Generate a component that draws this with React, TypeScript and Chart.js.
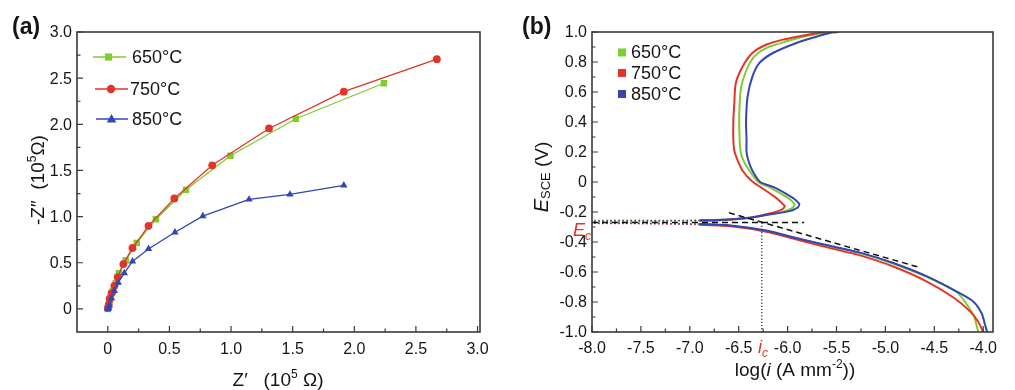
import React, { useEffect, useRef } from 'react';
import { Chart, registerables } from 'chart.js';
Chart.register(...registerables);

// ---------- Panel (a): Nyquist data (10^5 ohm) ----------
const zReal650 = [0, 0.008, 0.02, 0.04, 0.064, 0.09, 0.145, 0.235, 0.39, 0.635, 0.995, 1.525, 2.24];
const zImag650 = [0, 0.04, 0.1, 0.19, 0.28, 0.388, 0.526, 0.715, 0.972, 1.29, 1.66, 2.06, 2.445];
const zReal750 = [0, 0.008, 0.015, 0.03, 0.053, 0.08, 0.126, 0.2, 0.33, 0.54, 0.847, 1.308, 1.915, 2.67];
const zImag750 = [0.01, 0.05, 0.11, 0.17, 0.25, 0.345, 0.486, 0.66, 0.9, 1.197, 1.556, 1.955, 2.354, 2.706];
const zReal850 = [0, 0.005, 0.012, 0.03, 0.053, 0.085, 0.134, 0.2, 0.33, 0.545, 0.771, 1.146, 1.478, 1.915];
const zImag850 = [0, 0.01, 0.04, 0.116, 0.196, 0.286, 0.388, 0.515, 0.65, 0.83, 1.005, 1.186, 1.24, 1.338];

const aTicks = [0, 0.5, 1.0, 1.5, 2.0, 2.5, 3.0];
const aTickLabels = ['0', '0.5', '1.0', '1.5', '2.0', '2.5', '3.0'];
const aMinor = [0.25, 0.75, 1.25, 1.75, 2.25, 2.75];

// ---------- Panel (b): polarization data ----------
const logI650 = [-4.05, -4.07, -4.1, -4.2, -4.27, -4.58, -4.92, -5.26, -5.535, -5.88, -6.22, -6.56, -6.9, -7.6, -8.0, -8.0, -7.3, -6.9, -6.7, -6.39, -6.22, -6.03, -5.95, -5.93, -5.96, -6.0, -6.18, -6.3, -6.39, -6.45, -6.48, -6.49, -6.495, -6.49, -6.475, -6.42, -6.34, -6.22, -6.01, -5.8, -5.64, -5.58];
const E650 = [-1.0, -0.95, -0.886, -0.787, -0.735, -0.633, -0.543, -0.474, -0.434, -0.381, -0.326, -0.293, -0.282, -0.272, -0.27, -0.256, -0.254, -0.254, -0.252, -0.238, -0.22, -0.194, -0.172, -0.15, -0.125, -0.104, -0.037, 0.0, 0.075, 0.14, 0.2, 0.277, 0.4, 0.524, 0.635, 0.747, 0.837, 0.893, 0.938, 0.975, 0.994, 1.0];

const logI750 = [-4.0, -4.05, -4.13, -4.3, -4.58, -4.92, -5.26, -5.535, -5.88, -6.22, -6.56, -6.9, -7.5, -8.0, -8.0, -7.4, -6.9, -6.7, -6.39, -6.22, -6.1, -6.05, -6.03, -6.06, -6.12, -6.27, -6.37, -6.46, -6.51, -6.545, -6.555, -6.555, -6.545, -6.53, -6.46, -6.36, -6.22, -6.05, -5.85, -5.69, -5.62];
const E750 = [-1.0, -0.933, -0.866, -0.772, -0.662, -0.563, -0.489, -0.446, -0.388, -0.331, -0.297, -0.285, -0.277, -0.275, -0.262, -0.26, -0.258, -0.255, -0.24, -0.215, -0.194, -0.18, -0.16, -0.14, -0.104, -0.037, 0.008, 0.075, 0.142, 0.21, 0.28, 0.41, 0.524, 0.658, 0.77, 0.86, 0.915, 0.949, 0.975, 0.994, 1.0];

const logI850 = [-3.96, -3.98, -4.015, -4.1, -4.27, -4.58, -4.92, -5.26, -5.535, -5.88, -6.22, -6.56, -6.9, -7.6, -8.0, -8.0, -7.2, -6.9, -6.7, -6.39, -6.22, -5.98, -5.9, -5.88, -5.91, -5.95, -6.13, -6.28, -6.36, -6.4, -6.42, -6.42, -6.425, -6.41, -6.36, -6.29, -6.15, -5.91, -5.7, -5.57, -5.48];
const E850 = [-1.0, -0.955, -0.877, -0.798, -0.731, -0.628, -0.54, -0.471, -0.43, -0.378, -0.324, -0.291, -0.28, -0.276, -0.274, -0.262, -0.258, -0.256, -0.253, -0.238, -0.22, -0.194, -0.172, -0.148, -0.125, -0.104, -0.037, 0.0, 0.075, 0.14, 0.2, 0.277, 0.4, 0.568, 0.702, 0.792, 0.86, 0.927, 0.97, 0.994, 1.0];

const ecLineLogI = [-8.0, -5.83];
const ecPotential = -0.27;
const tafelLogI = [-6.6, -4.66];
const tafelE = [-0.205, -0.568];
const icLogI = -6.264;

const bXTicks = [-8.0, -7.5, -7.0, -6.5, -6.0, -5.5, -5.0, -4.5, -4.0];
const bXTickLabels = ['-8.0', '-7.5', '-7.0', '-6.5', '-6.0', '-5.5', '-5.0', '-4.5', '-4.0'];
const bXMinor = [-7.75, -7.25, -6.75, -6.25, -5.75, -5.25, -4.75, -4.25];
const bYTicks = [-1.0, -0.8, -0.6, -0.4, -0.2, 0, 0.2, 0.4, 0.6, 0.8, 1.0];
const bYTickLabels = ['-1.0', '-0.8', '-0.6', '-0.4', '-0.2', '0', '0.2', '0.4', '0.6', '0.8', '1.0'];
const bYMinor = [-0.9, -0.7, -0.5, -0.3, -0.1, 0.1, 0.3, 0.5, 0.7, 0.9];

const seriesLabels = ['650°C', '750°C', '850°C'];

const FAM = '"Liberation Sans", Arial, Helvetica, sans-serif';
const GREEN = '#80cc2e';
const RED = '#e2342a';
const BLUE = '#3346b2';
const INK = '#151515';

const pts = (xs: number[], ys: number[]) => xs.map((x, i) => ({ x, y: ys[i] }));

type Part = { t: string; size: number; italic?: boolean; bold?: boolean; dy?: number; color?: string };
const fontOf = (p: Part) => `${p.italic ? 'italic ' : ''}${p.bold ? 'bold ' : ''}${p.size}px ${FAM}`;

function drawRich(ctx: CanvasRenderingContext2D, parts: Part[], x: number, y: number, center: boolean, rotate = false) {
  ctx.save();
  ctx.translate(x, y);
  if (rotate) ctx.rotate(-Math.PI / 2);
  ctx.textBaseline = 'alphabetic';
  ctx.textAlign = 'left';
  let w = 0;
  for (const p of parts) { ctx.font = fontOf(p); w += ctx.measureText(p.t).width; }
  let cx = center ? -w / 2 : 0;
  for (const p of parts) {
    ctx.font = fontOf(p);
    ctx.fillStyle = p.color || INK;
    ctx.fillText(p.t, cx, p.dy || 0);
    cx += ctx.measureText(p.t).width;
  }
  ctx.restore();
}

type AxisSpec = {
  xMajor: number[]; xLabels: string[]; xMinor: number[];
  yMajor: number[]; yLabels: string[]; yMinor: number[];
  xLabelDy: number; yLabelDx: number; fontSize: number;
};

function drawFrame(chart: any, s: AxisSpec) {
  const { ctx, chartArea: a } = chart;
  const xs = chart.scales.x, ys = chart.scales.y;
  ctx.save();
  ctx.strokeStyle = '#3a3a3a';
  ctx.lineWidth = 1.2;
  ctx.beginPath();
  for (const v of s.xMajor) { const p = xs.getPixelForValue(v); ctx.moveTo(p, a.bottom); ctx.lineTo(p, a.bottom - 6); }
  for (const v of s.xMinor) { const p = xs.getPixelForValue(v); ctx.moveTo(p, a.bottom); ctx.lineTo(p, a.bottom - 3.5); }
  for (const v of s.yMajor) { const p = ys.getPixelForValue(v); ctx.moveTo(a.left, p); ctx.lineTo(a.left + 6, p); }
  for (const v of s.yMinor) { const p = ys.getPixelForValue(v); ctx.moveTo(a.left, p); ctx.lineTo(a.left + 3.5, p); }
  ctx.stroke();
  ctx.lineWidth = 1.6;
  ctx.strokeRect(a.left, a.top, a.right - a.left, a.bottom - a.top);
  ctx.fillStyle = INK;
  ctx.font = `${s.fontSize}px ${FAM}`;
  ctx.textAlign = 'center';
  ctx.textBaseline = 'alphabetic';
  s.xMajor.forEach((v, i) => ctx.fillText(s.xLabels[i], xs.getPixelForValue(v), a.bottom + s.xLabelDy));
  ctx.textAlign = 'right';
  ctx.textBaseline = 'middle';
  s.yMajor.forEach((v, i) => ctx.fillText(s.yLabels[i], a.left - s.yLabelDx, ys.getPixelForValue(v) + 1));
  ctx.restore();
}

function marker(ctx: CanvasRenderingContext2D, kind: string, x: number, y: number, color: string) {
  ctx.save();
  ctx.fillStyle = color;
  ctx.beginPath();
  if (kind === 'rect') ctx.rect(x - 3.6, y - 3.6, 7.2, 7.2);
  else if (kind === 'circle') ctx.arc(x, y, 4.2, 0, Math.PI * 2);
  else { ctx.moveTo(x, y - 5); ctx.lineTo(x + 4.8, y + 3.4); ctx.lineTo(x - 4.8, y + 3.4); ctx.closePath(); }
  ctx.fill();
  ctx.restore();
}

const plugA = {
  id: 'decorA',
  afterDraw(chart: any) {
    const ctx = chart.ctx as CanvasRenderingContext2D;
    drawFrame(chart, {
      xMajor: aTicks, xLabels: aTickLabels, xMinor: aMinor,
      yMajor: aTicks, yLabels: aTickLabels, yMinor: aMinor,
      xLabelDy: 22, yLabelDx: 5, fontSize: 16,
    });
    // legend
    const rows = [
      { y: 57, x0: 93, x1: 126, mx: 108.5, tx: 132, c: GREEN, k: 'rect' },
      { y: 89, x0: 95, x1: 128, mx: 111, tx: 130, c: RED, k: 'circle' },
      { y: 119, x0: 96, x1: 128, mx: 111.5, tx: 132, c: BLUE, k: 'triangle' },
    ];
    rows.forEach((r, i) => {
      ctx.save();
      ctx.strokeStyle = r.c; ctx.lineWidth = 1.5;
      ctx.beginPath(); ctx.moveTo(r.x0, r.y); ctx.lineTo(r.x1, r.y); ctx.stroke();
      ctx.restore();
      marker(ctx, r.k, r.mx, r.y, r.c);
      ctx.save();
      ctx.fillStyle = INK; ctx.font = `18px ${FAM}`; ctx.textAlign = 'left'; ctx.textBaseline = 'middle';
      ctx.fillText(seriesLabels[i], r.tx, r.y + 1);
      ctx.restore();
    });
    // titles
    drawRich(ctx, [{ t: '(a)', size: 23, bold: true }], 12, 34, false);
    drawRich(ctx, [
      { t: 'Z′   (10', size: 19 },
      { t: '5', size: 12, dy: -8 },
      { t: ' Ω)', size: 19 },
    ], 278, 386, true);
    drawRich(ctx, [
      { t: '-Z″  (10', size: 19, dy: 7 },
      { t: '5', size: 12, dy: -1 },
      { t: 'Ω)', size: 19, dy: 7 },
    ], 37, 180, true, true);
  },
};

const plugB = {
  id: 'decorB',
  afterDraw(chart: any) {
    const ctx = chart.ctx as CanvasRenderingContext2D;
    drawFrame(chart, {
      xMajor: bXTicks, xLabels: bXTickLabels, xMinor: bXMinor,
      yMajor: bYTicks, yLabels: bYTickLabels, yMinor: bYMinor,
      xLabelDy: 21, yLabelDx: 5, fontSize: 16,
    });
    const rows = [{ y: 52.5, c: GREEN }, { y: 73, c: RED }, { y: 94, c: BLUE }];
    rows.forEach((r, i) => {
      ctx.save();
      ctx.fillStyle = r.c;
      ctx.fillRect(108, r.y - 4, 8, 8);
      ctx.fillStyle = INK; ctx.font = `18px ${FAM}`; ctx.textAlign = 'left'; ctx.textBaseline = 'middle';
      ctx.fillText(seriesLabels[i], 121, r.y + 1);
      ctx.restore();
    });
    drawRich(ctx, [{ t: '(b)', size: 23, bold: true }], 12, 34, false);
    drawRich(ctx, [
      { t: 'log(', size: 19 },
      { t: 'i', size: 19, italic: true },
      { t: ' (A mm', size: 19 },
      { t: '-2', size: 12, dy: -8 },
      { t: '))', size: 19 },
    ], 285, 376, true);
    drawRich(ctx, [
      { t: 'E', size: 20, italic: true, dy: 7 },
      { t: 'SCE', size: 13, dy: 9 },
      { t: ' (V)', size: 19, dy: 7 },
    ], 31, 177, true, true);
    drawRich(ctx, [
      { t: 'E', size: 18, italic: true, color: RED },
      { t: 'c', size: 12, italic: true, dy: 4, color: RED },
    ], 63, 236, false);
    drawRich(ctx, [
      { t: 'i', size: 18, italic: true, color: RED },
      { t: 'c', size: 12, italic: true, dy: 4, color: RED },
    ], 248, 353, false);
  },
};

const noisySeg = {
  borderDash: (c: any) => (c.p0.parsed.x < -6.85 && c.p1.parsed.x < -6.85 ? [1.5, 2.5] : undefined),
  borderWidth: (c: any) => (c.p0.parsed.x < -6.85 && c.p1.parsed.x < -6.85 ? 1.4 : undefined),
};

export default function App() {
  const refA = useRef<HTMLCanvasElement>(null);
  const refB = useRef<HTMLCanvasElement>(null);

  useEffect(() => {
    const lineA = (label: string, xs: number[], ys: number[], color: string, style: string, r: number, order: number) => ({
      label, data: pts(xs, ys), showLine: true, borderColor: color, backgroundColor: color,
      borderWidth: 1.3, pointStyle: style, pointRadius: r, pointBorderWidth: 0, order,
    });
    const chartA = new Chart(refA.current as HTMLCanvasElement, {
      type: 'scatter',
      data: {
        datasets: [
          lineA(seriesLabels[0], zReal650, zImag650, GREEN, 'rect', 4.6, 3),
          lineA(seriesLabels[1], zReal750, zImag750, RED, 'circle', 3.9, 2),
          lineA(seriesLabels[2], zReal850, zImag850, BLUE, 'triangle', 4.3, 1),
        ] as any,
      },
      options: {
        animation: false,
        responsive: true,
        maintainAspectRatio: false,
        events: [],
        layout: { padding: { left: 77, right: 30, top: 32, bottom: 58 } },
        plugins: { legend: { display: false }, tooltip: { enabled: false } },
        scales: {
          x: { type: 'linear', display: false, min: -0.25, max: 3.02 },
          y: { type: 'linear', display: false, min: -0.25, max: 3.0 },
        },
      },
      plugins: [plugA],
    });

    const curve = (label: string, xs: number[], ys: number[], color: string, order: number) => ({
      label, data: pts(xs, ys), showLine: true, borderColor: color, backgroundColor: color,
      borderWidth: 2, pointRadius: 0, tension: 0.25, order, segment: noisySeg,
    });
    const chartB = new Chart(refB.current as HTMLCanvasElement, {
      type: 'scatter',
      data: {
        datasets: [
          curve(seriesLabels[0], logI650, E650, GREEN, 3),
          curve(seriesLabels[1], logI750, E750, RED, 2),
          curve(seriesLabels[2], logI850, E850, BLUE, 1),
          {
            label: 'Ec', data: pts(ecLineLogI, [ecPotential, ecPotential]), showLine: true,
            borderColor: '#111', borderWidth: 1.5, borderDash: [6, 4], pointRadius: 0, order: 0,
          },
          {
            label: 'Tafel', data: pts(tafelLogI, tafelE), showLine: true,
            borderColor: '#111', borderWidth: 1.5, borderDash: [6, 4], pointRadius: 0, order: 0,
          },
          {
            label: 'ic', data: pts([icLogI, icLogI], [ecPotential, -1.0]), showLine: true,
            borderColor: '#222', borderWidth: 1.2, borderDash: [1.2, 2], pointRadius: 0, order: 0,
          },
        ] as any,
      },
      options: {
        animation: false,
        responsive: true,
        maintainAspectRatio: false,
        events: [],
        layout: { padding: { left: 82, right: 22, top: 32, bottom: 58 } },
        plugins: { legend: { display: false }, tooltip: { enabled: false } },
        scales: {
          x: { type: 'linear', display: false, min: -8.0, max: -3.9 },
          y: { type: 'linear', display: false, min: -1.0, max: 1.0 },
        },
      },
      plugins: [plugB],
    });

    return () => { chartA.destroy(); chartB.destroy(); };
  }, []);

  return (
    <div style={{ position: 'absolute', left: 0, top: 0, width: 1015, height: 390, background: '#fff' }}>
      <div style={{ position: 'absolute', left: 0, top: 0, width: 510, height: 390 }}>
        <canvas ref={refA} />
      </div>
      <div style={{ position: 'absolute', left: 510, top: 0, width: 505, height: 390 }}>
        <canvas ref={refB} />
      </div>
    </div>
  );
}
